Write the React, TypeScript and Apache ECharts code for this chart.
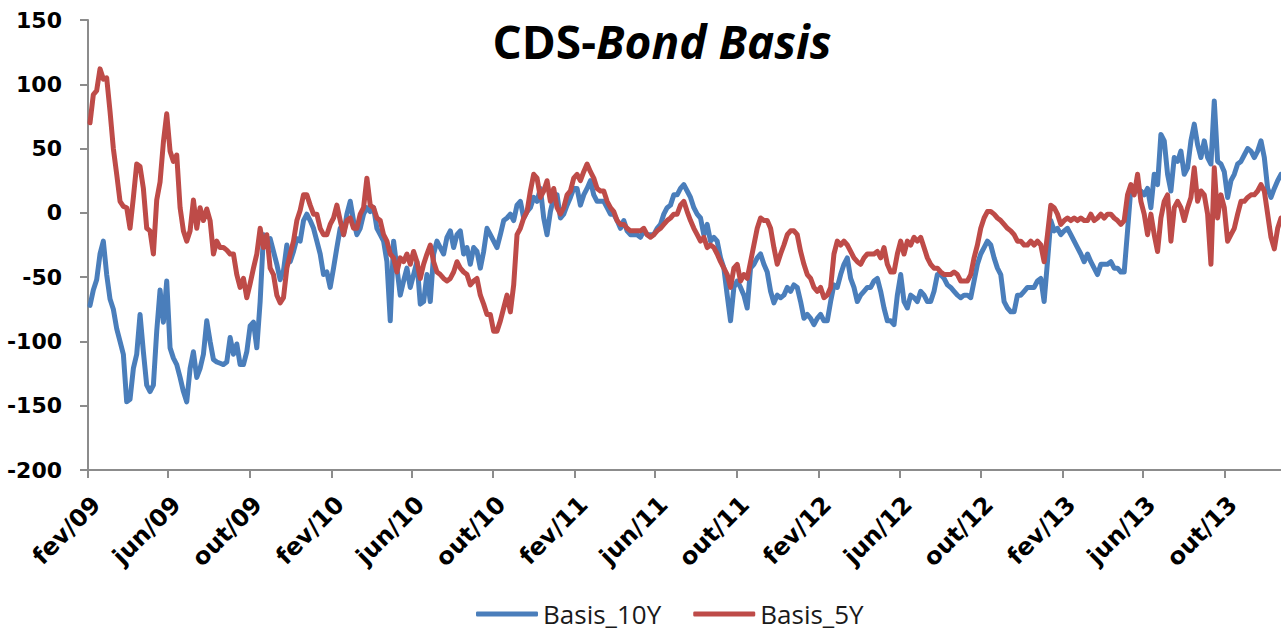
import React, { useEffect, useRef } from "react";
import * as echarts from "echarts";

// ---- DATA ----
// Samples every 5 days starting 2009-02-04 (day offsets counted from 2009-02-01)
const originDate = "2009-02-01";
const firstSampleDay = 3;
const sampleStepDays = 5;

const tickDates = [
  "2009-02-01", "2009-06-01", "2009-10-01", "2010-02-01", "2010-06-01",
  "2010-10-01", "2011-02-01", "2011-06-01", "2011-10-01", "2012-02-01",
  "2012-06-01", "2012-10-01", "2013-02-01", "2013-06-01", "2013-10-01",
];
const tickLabels = [
  "fev/09", "jun/09", "out/09", "fev/10", "jun/10", "out/10", "fev/11",
  "jun/11", "out/11", "fev/12", "jun/12", "out/12", "fev/13", "jun/13", "out/13",
];
const yTicks = [-200, -150, -100, -50, 0, 50, 100, 150];

const basis10Y = [
  -72, -60, -52, -32, -22, -48, -67, -75, -90, -100, -110, -147, -145, -121, -110, -79, -108, -134, -139, -134,
  -92, -60, -85, -53, -105, -113, -118, -128, -139, -147, -121, -108, -128, -121, -110, -84, -100, -114, -116, -117,
  -118, -116, -97, -110, -102, -118, -118, -108, -88, -85, -105, -69, -17, -22, -20, -30, -40, -52, -45, -25,
  -38, -30, -20,
  -22, -6, -1, -6, -12, -22, -32, -48, -46, -58,
  -43, -27, -12, -17, -1, 9, -6, -17, -12, -1,
  4, 1, 4, -12, -17, -22, -38, -84, -22, -43,
  -64, -53, -43, -58, -48, -38, -71, -69, -48, -69,
  -32, -22, -27, -32, -19, -14, -27, -17, -14, -32,
  -27, -40, -27, -30, -43, -30, -12, -17, -22, -27,
  -17, -6, -4, -1, -6, 6, 9, -4, 1, 4,
  12, 9, 19, -4, -17, 1, 12, 14, -4, -1,
  6, 12, 19, 19, 6, 14, 19, 25, 14, 9,
  9, 9, 4, -1, -1, -6, -12, -6, -14, -17,
  -17, -17, -19, -14, -17, -17, -17, -12, -9, -1,
  4, 6, 14, 14, 19, 22, 17, 12, 4, -1,
  -4, -17, -9, -22, -19, -22, -35, -43, -64, -84,
  -58, -53, -58, -64, -74, -43, -40, -35, -32, -40,
  -46, -61, -70, -64, -66, -64, -58, -61, -56, -58,
  -69, -82, -79, -82, -87, -82, -79, -84, -84, -69,
  -56, -58, -48, -40, -35, -51, -58, -69, -64, -61,
  -58, -58, -53, -51, -61, -74, -84, -84, -87, -64,
  -48, -69, -74, -64, -66, -69, -61, -64, -69, -69,
  -61, -48, -48, -51, -56, -58, -61, -64, -66, -64,
  -64, -66, -53, -40, -32, -27, -22, -25, -35, -43,
  -48, -69, -74, -77, -77, -64, -64, -61, -58, -58,
  -58, -53, -51, -69, -38, -6, -14, -12, -17, -14,
  -12, -17, -22, -27, -32, -38, -32, -38, -43, -48,
  -40, -40, -40, -38, -43, -43, -46, -46, -14, 19,
  19, 17, 17, 14, 19, 4, 30, 22, 61, 56,
  30, 17, 43, 40, 48, 30, 35, 56, 69, 53,
  43, 56, 43, 38, 87, 40, 38, 32, 12, 25,
  30, 38, 40, 45, 50, 48, 43, 48, 56, 43,
  19, 12, 19, 25, 30,
];

const basis5Y = [
  70, 92, 95, 112, 104, 105, 79, 50, 30, 9, 5, 4, -12, 12, 38, 36, 19, -12, -14, -32,
  10, 24, 55, 77, 48, 40, 45, 4, -14, -22, -14, 10, -12, 4, -6, 3, -6, -32, -22, -27,
  -27, -29, -32, -32, -48, -58, -51, -66, -55, -43, -32, -12, -27, -17, -43, -48, -64, -70, -66, -43,
  -32, -22, -6,
  2, 14, 14, 6, -1, -1, -12, -17, -17, -9,
  -4, 6, -6, -17, -6, -4, -12, -12, -1, 4,
  27, 6, 4, -4, -6, -17, -22, -32, -35, -46,
  -35, -38, -32, -40, -30, -38, -51, -40, -32, -25,
  -38, -46, -48, -51, -53, -51, -46, -38, -43, -46,
  -48, -56, -53, -51, -64, -71, -79, -79, -92, -92,
  -84, -74, -64, -77, -56, -17, -12, -4, 1, 17,
  30, 27, 12, 17, 25, 9, 19, 4, -1, 4,
  14, 17, 27, 30, 25, 32, 38, 32, 27, 19,
  17, 17, 9, 4, 1, -6, -9, -9, -12, -14,
  -14, -14, -14, -12, -17, -19, -17, -14, -12, -9,
  -6, -4, -1, -1, 6, 9, 1, -6, -12, -17,
  -22, -19, -27, -25, -27, -32, -38, -43, -48, -58,
  -43, -40, -53, -48, -51, -38, -25, -12, -4, -6,
  -6, -12, -27, -40, -32, -25, -17, -14, -14, -17,
  -30, -40, -48, -51, -58, -61, -58, -66, -64, -58,
  -32, -22, -25, -22, -25, -30, -35, -38, -40, -35,
  -32, -32, -32, -30, -35, -27, -40, -46, -46, -32,
  -22, -32, -22, -25, -19, -22, -19, -27, -35, -40,
  -43, -43, -46, -48, -48, -48, -46, -48, -53, -53,
  -53, -48, -35, -25, -12, -4, 1, 1, -1, -4,
  -6, -9, -12, -14, -17, -22, -22, -25, -25, -22,
  -25, -22, -25, -38, -17, 6, 4, -1, -9, -6,
  -4, -6, -4, -6, -4, -6, -6, -1, -6, -4,
  -1, -4, -1, -1, -4, -6, -9, -6, 14, 22,
  14, 30, 9, -1, -17, -1, -17, -30, -4, 9,
  14, -22, 4, 9, 4, -6, 4, 12, 35, 9,
  17, 14, -1, -40, 35, -4, 14, 4, -22, -17,
  -12, -1, 9, 9, 12, 14, 14, 17, 22, 17,
  -1, -19, -28, -12, -4,
];

const seriesNames = ["Basis_10Y", "Basis_5Y"];
const seriesColors = ["#4A7EBB", "#BE4B48"];
const titleMain = "CDS-";
const titleItalic = "Bond Basis";

const DAY_MS = 86400000;
const dayOffset = (iso: string) =>
  Math.round((Date.parse(iso + "T00:00:00Z") - Date.parse(originDate + "T00:00:00Z")) / DAY_MS);

export default function App() {
  const ref = useRef<HTMLDivElement>(null);

  useEffect(() => {
    if (!ref.current) return;
    const chart = echarts.init(ref.current, undefined, { renderer: "svg" });
    const tickDays = tickDates.map(dayOffset);
    const toPairs = (vals: number[]) =>
      vals.map((v, i) => [firstSampleDay + sampleStepDays * i, v]);
    const axisColor = "#8C8C8C";

    chart.setOption({
      animation: false,
      backgroundColor: "#ffffff",
      textStyle: { fontFamily: "DejaVu Sans" },
      grid: { left: 88, top: 20, width: 1193, height: 450, containLabel: false },
      graphic: [
        {
          type: "text",
          x: 662,
          y: 41,
          style: {
            text: `{a|${titleMain}}{b|${titleItalic}}`,
            align: "center",
            verticalAlign: "middle",
            textAlign: "center",
            textVerticalAlign: "middle",
            rich: {
              a: { fontFamily: "Open Sans", fontWeight: "bold", fontSize: 46, fill: "#000" },
              b: { fontFamily: "Open Sans", fontWeight: "bold", fontStyle: "italic", fontSize: 46, fill: "#000" },
            },
          },
        },
      ],
      legend: {
        left: 471,
        top: 595,
        itemWidth: 62,
        itemHeight: 5,
        itemGap: 32,
        icon: "roundRect",
        data: seriesNames,
        textStyle: { fontFamily: "Open Sans", fontSize: 26, color: "#1a1a1a", lineHeight: 28 },
      },
      xAxis: {
        type: "value",
        min: 0,
        max: 1788,
        splitLine: { show: false },
        axisLine: { show: true, onZero: false, lineStyle: { color: axisColor, width: 2 } },
        axisTick: {
          show: true,
          length: 8,
          customValues: tickDays,
          lineStyle: { color: axisColor, width: 2 },
        },
        axisLabel: {
          customValues: tickDays,
          rotate: 45,
          margin: 22,
          verticalAlign: "top",
          fontFamily: "DejaVu Sans",
          fontWeight: "bold",
          fontSize: 24,
          color: "#000",
          formatter: (v: number) => {
            const idx = tickDays.indexOf(Math.round(v));
            return idx >= 0 ? tickLabels[idx] : "";
          },
        },
      },
      yAxis: {
        type: "value",
        min: yTicks[0],
        max: yTicks[yTicks.length - 1],
        interval: 50,
        splitLine: { show: false },
        axisLine: { show: true, lineStyle: { color: axisColor, width: 2 } },
        axisTick: { show: true, length: 8, lineStyle: { color: axisColor, width: 2 } },
        axisLabel: {
          margin: 26,
          fontFamily: "DejaVu Sans",
          fontWeight: "bold",
          fontSize: 22,
          color: "#000",
        },
      },
      series: [
        {
          name: seriesNames[0],
          type: "line",
          data: toPairs(basis10Y),
          showSymbol: false,
          symbol: "none",
          color: seriesColors[0],
          lineStyle: { width: 5, color: seriesColors[0], join: "round", cap: "round" },
          clip: true,
          z: 2,
        },
        {
          name: seriesNames[1],
          type: "line",
          data: toPairs(basis5Y),
          showSymbol: false,
          symbol: "none",
          color: seriesColors[1],
          lineStyle: { width: 5, color: seriesColors[1], join: "round", cap: "round" },
          clip: true,
          z: 3,
        },
      ],
    });

    return () => chart.dispose();
  }, []);

  return (
    <div
      ref={ref}
      style={{ position: "fixed", left: 0, top: 0, width: 1281, height: 634 }}
    />
  );
}
